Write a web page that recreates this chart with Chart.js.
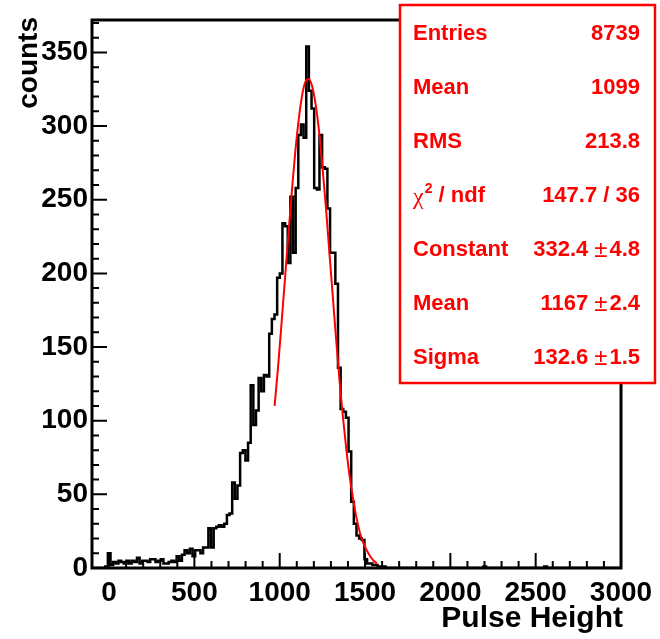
<!DOCTYPE html>
<html lang="en">
<head>
<meta charset="UTF-8" />
<title>Pulse Height</title>
<script src="https://cdn.jsdelivr.net/npm/chart.js"></script>
<style>
  html, body { margin: 0; padding: 0; background: #fff; }
  canvas { display: block; }
</style>
</head>
<body>
<canvas id="myChart" width="660" height="639"></canvas>
<script>
// histogram: 200 bins between -100 and 3000
const xMin = -100;
const xMax = 3000;
const binWidth = 15.5;
const counts = [
  0, 0, 0, 0, 0, 1, 10, 2, 4, 3,
  5, 4, 3, 5, 3, 5, 4, 7, 3, 5,
  5, 4, 6, 6, 4, 5, 6, 3, 3, 4,
  5, 4, 8, 5, 9, 12, 10, 13, 8, 12,
  12, 10, 14, 14, 27, 14, 27, 28, 29, 28,
  30, 36, 37, 58, 47, 56, 78, 80, 73, 85,
  124, 97, 107, 129, 120, 131, 130, 159, 169, 172,
  197, 200, 234, 232, 207, 252, 214, 258, 294, 301,
  292, 354, 324, 312, 258, 257, 294, 272, 271, 244,
  214, 214, 193, 136, 108, 106, 102, 79, 45, 30,
  22, 20, 19, 6, 3, 3, 2, 2, 1, 0,
  1, 0, 0, 0, 0, 0, 0, 0, 0, 0,
  0, 0, 0, 0, 0, 0, 0, 0, 0, 0,
  0, 0, 0, 0, 0, 0, 0, 0, 0, 0,
  0, 0, 0, 0, 0, 0, 0, 0, 1, 0,
  0, 0, 0, 0, 0, 0, 0, 0, 0, 0,
  0, 0, 0, 0, 0, 0, 0, 0, 0, 0,
  0, 1, 0, 0, 0, 0, 0, 0, 0, 0,
  0, 0, 0, 0, 0, 0, 0, 0, 0, 0,
  0, 0, 0, 0, 0, 0, 0, 0, 0, 0
];

// red gaussian fit curve
const fitX = [970, 990, 1010, 1030, 1050, 1070, 1090, 1110, 1130, 1150,
  1170, 1190, 1210, 1230, 1250, 1270, 1290, 1310, 1330, 1350,
  1370, 1390, 1410, 1430, 1450, 1470, 1490, 1510, 1530, 1550, 1570];
const fitY = [110, 136, 165, 195, 225, 254, 281, 303, 320, 330,
  332, 327, 315, 297, 273, 246, 216, 186, 156, 128,
  103, 81, 62, 47, 34, 24, 17, 12, 8, 5, 3];

const xTicks = [0, 500, 1000, 1500, 2000, 2500, 3000];
const yTicks = [0, 50, 100, 150, 200, 250, 300, 350];
const yMax = 372;

const statLabels = ["Entries", "Mean", "RMS", "chi2", "Constant", "Mean", "Sigma"];
const statValues = [["8739"], ["1099"], ["213.8"], ["147.7 / 36"], ["332.4", "4.8"], ["1167", "2.4"], ["132.6", "1.5"]];

const FONT = '"Liberation Sans", Arial, Helvetica, sans-serif';

const histPoints = counts.map((c, i) => ({ x: xMin + i * binWidth, y: c }));
histPoints.push({ x: xMax, y: 0 });
const fitPoints = fitX.map((x, i) => ({ x: x, y: fitY[i] }));

const rootStyle = {
  id: "rootStyle",
  afterDatasetsDraw(chart) {
    const { ctx, chartArea: a, scales } = chart;
    const x = scales.x, y = scales.y;
    ctx.save();
    ctx.strokeStyle = "#000";
    ctx.lineWidth = 2;
    ctx.beginPath();
    for (let v = -100; v <= 3000; v += 100) {
      const px = x.getPixelForValue(v);
      const len = v % 500 === 0 ? 15 : 7;
      ctx.moveTo(px, a.bottom);
      ctx.lineTo(px, a.bottom - len);
    }
    for (let v = 0; v <= 370; v += 10) {
      const py = y.getPixelForValue(v);
      const len = v % 50 === 0 ? 15 : 7;
      ctx.moveTo(a.left, py);
      ctx.lineTo(a.left + len, py);
    }
    ctx.stroke();
    ctx.lineWidth = 3;
    ctx.strokeRect(a.left, a.top, a.right - a.left, a.bottom - a.top);

    // axis titles
    ctx.fillStyle = "#000";
    ctx.textAlign = "right";
    ctx.textBaseline = "alphabetic";
    ctx.font = "bold 30px " + FONT;
    ctx.fillText("Pulse Height", 623, 627);
    ctx.font = "bold 28px " + FONT;
    ctx.translate(37, 17);
    ctx.rotate(-Math.PI / 2);
    ctx.fillText("counts", 0, 0);
    ctx.restore();
  },
  afterDraw(chart) {
    const ctx = chart.ctx;
    const bx = 400, by = 5, bw = 255, bh = 378;
    ctx.save();
    ctx.fillStyle = "#fff";
    ctx.fillRect(bx, by, bw, bh);
    ctx.strokeStyle = "#ff0000";
    ctx.lineWidth = 2.5;
    ctx.strokeRect(bx, by, bw, bh);
    ctx.fillStyle = "#ff0000";
    ctx.textBaseline = "middle";
    const rowH = bh / statLabels.length;
    const bold = "bold 22px " + FONT;
    const thin = "24px " + FONT;
    const right = 640, left = 413;
    statLabels.forEach((lab, k) => {
      const cy = by + 2 + rowH * (k + 0.5);
      ctx.textAlign = "left";
      if (lab === "chi2") {
        ctx.font = '24px "Liberation Serif", serif';
        ctx.fillText("\u03C7", left, cy + 2);
        let w = ctx.measureText("\u03C7").width;
        ctx.font = "bold 14px " + FONT;
        ctx.fillText("2", left + w + 1, cy - 7);
        w += ctx.measureText("2").width + 1;
        ctx.font = bold;
        ctx.fillText(" / ndf", left + w, cy);
      } else {
        ctx.font = bold;
        ctx.fillText(lab, left, cy);
      }
      const val = statValues[k];
      ctx.textAlign = "right";
      ctx.font = bold;
      if (val.length === 1) {
        ctx.fillText(val[0], right, cy);
      } else {
        ctx.fillText(val[1], right, cy);
        let r = right - ctx.measureText(val[1]).width - 2;
        ctx.font = thin;
        ctx.fillText("\u00B1", r, cy);
        r -= ctx.measureText("\u00B1").width + 6;
        ctx.font = bold;
        ctx.fillText(val[0], r, cy);
      }
    });
    ctx.restore();
  }
};

new Chart(document.getElementById("myChart"), {
  type: "line",
  data: {
    datasets: [
      {
        label: "fit",
        data: fitPoints,
        borderColor: "#ff0000",
        borderWidth: 2,
        pointRadius: 0,
        cubicInterpolationMode: "monotone",
        fill: false,
        order: 0
      },
      {
        label: "Pulse Height",
        data: histPoints,
        borderColor: "#000",
        borderWidth: 2.5,
        pointRadius: 0,
        stepped: "before",
        fill: false,
        order: 1
      }
    ]
  },
  options: {
    responsive: false,
    animation: false,
    layout: { padding: { top: 20, right: 39, left: 0, bottom: 0 } },
    plugins: { legend: { display: false }, tooltip: { enabled: false } },
    scales: {
      x: {
        type: "linear",
        min: xMin,
        max: xMax,
        grid: { display: false, drawTicks: false },
        border: { display: false },
        afterBuildTicks: (s) => { s.ticks = xTicks.map((v) => ({ value: v })); },
        afterFit: (s) => { s.height = 71; s.paddingLeft = 0; s.paddingRight = 0; },
        ticks: { color: "#000", padding: 8, maxRotation: 0, autoSkip: false,
          callback: (v) => String(v),
          font: { family: FONT, size: 28, weight: "bold" } }
      },
      y: {
        type: "linear",
        min: 0,
        max: yMax,
        grid: { display: false, drawTicks: false },
        border: { display: false },
        afterBuildTicks: (s) => { s.ticks = yTicks.map((v) => ({ value: v })); },
        afterFit: (s) => { s.width = 92; s.paddingTop = 0; s.paddingBottom = 0; },
        ticks: { color: "#000", padding: 4, callback: (v) => String(v),
          font: { family: FONT, size: 28, weight: "bold" } }
      }
    }
  },
  plugins: [rootStyle]
});
</script>
</body>
</html>
